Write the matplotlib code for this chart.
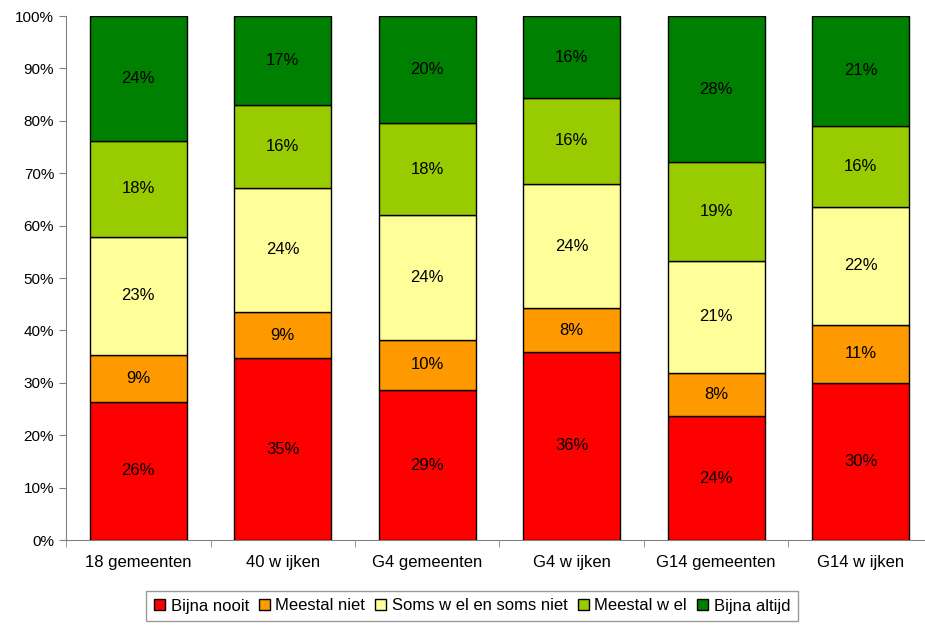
import numpy as np
import matplotlib
matplotlib.use("Agg")
import matplotlib.pyplot as plt
from matplotlib.ticker import PercentFormatter, MultipleLocator

plt.rcParams['font.family'] = ['Liberation Sans', 'DejaVu Sans']

categories = ['18 gemeenten', '40 w ijken', 'G4 gemeenten', 'G4 w ijken', 'G14 gemeenten', 'G14 w ijken']
series_names = ['Bijna nooit', 'Meestal niet', 'Soms w el en soms niet', 'Meestal w el', 'Bijna altijd']
colors = ['#FF0000', '#FF9900', '#FFFF99', '#99CC00', '#008000']

# percentages per category, bottom to top
bijna_nooit = [26.4, 34.7, 28.6, 35.9, 23.6, 30.0]
meestal_niet = [8.9, 8.8, 9.6, 8.3, 8.3, 11.1]
soms = [22.6, 23.7, 23.8, 23.8, 21.4, 22.4]
meestal_wel = [18.3, 15.9, 17.6, 16.3, 18.8, 15.6]
bijna_altijd = [23.8, 16.9, 20.4, 15.7, 27.9, 20.9]

series = [bijna_nooit, meestal_niet, soms, meestal_wel, bijna_altijd]

fig = plt.figure(figsize=(9.25, 6.25), dpi=100)
ax = fig.add_axes([66 / 925, 85 / 625, 867 / 925, 524 / 625])

x = np.arange(len(categories))
bottom = np.zeros(len(categories))
for name, vals, col in zip(series_names, series, colors):
    vals = np.array(vals)
    ax.bar(x, vals, bottom=bottom, width=0.67, color=col, edgecolor='black',
           linewidth=1, label=name)
    for xi, b, v in zip(x, bottom, vals):
        ax.text(xi, b + v / 2, f"{round(v):.0f}%", ha='center', va='center',
                fontsize=12, color='black')
    bottom += vals

ax.set_xlim(-0.5, len(categories) - 0.5)
ax.set_ylim(0, 100)
ax.yaxis.set_major_locator(MultipleLocator(10))
ax.yaxis.set_major_formatter(PercentFormatter(decimals=0))
ax.set_xticks(x)
ax.set_xticklabels(categories)
ax.set_xticks(np.arange(-0.5, len(categories), 1), minor=True)
ax.tick_params(axis='x', which='major', length=0, pad=11, labelsize=12)
ax.tick_params(axis='x', which='minor', length=5, direction='out', color='#808080')
ax.tick_params(axis='y', length=5, direction='out', labelsize=11, color='#808080')

for s in ['top', 'right']:
    ax.spines[s].set_visible(False)
for s in ['left', 'bottom']:
    ax.spines[s].set_color('#808080')

leg = fig.legend(loc='center', bbox_to_anchor=(472 / 925, 1 - 606 / 625), ncol=5,
                 fontsize=12, frameon=True, fancybox=False, edgecolor='#808080',
                 handlelength=0.65, handleheight=0.65, handletextpad=0.35,
                 columnspacing=0.6, borderpad=0.45)
leg.get_frame().set_linewidth(1)

fig.savefig('out.png', dpi=100)
